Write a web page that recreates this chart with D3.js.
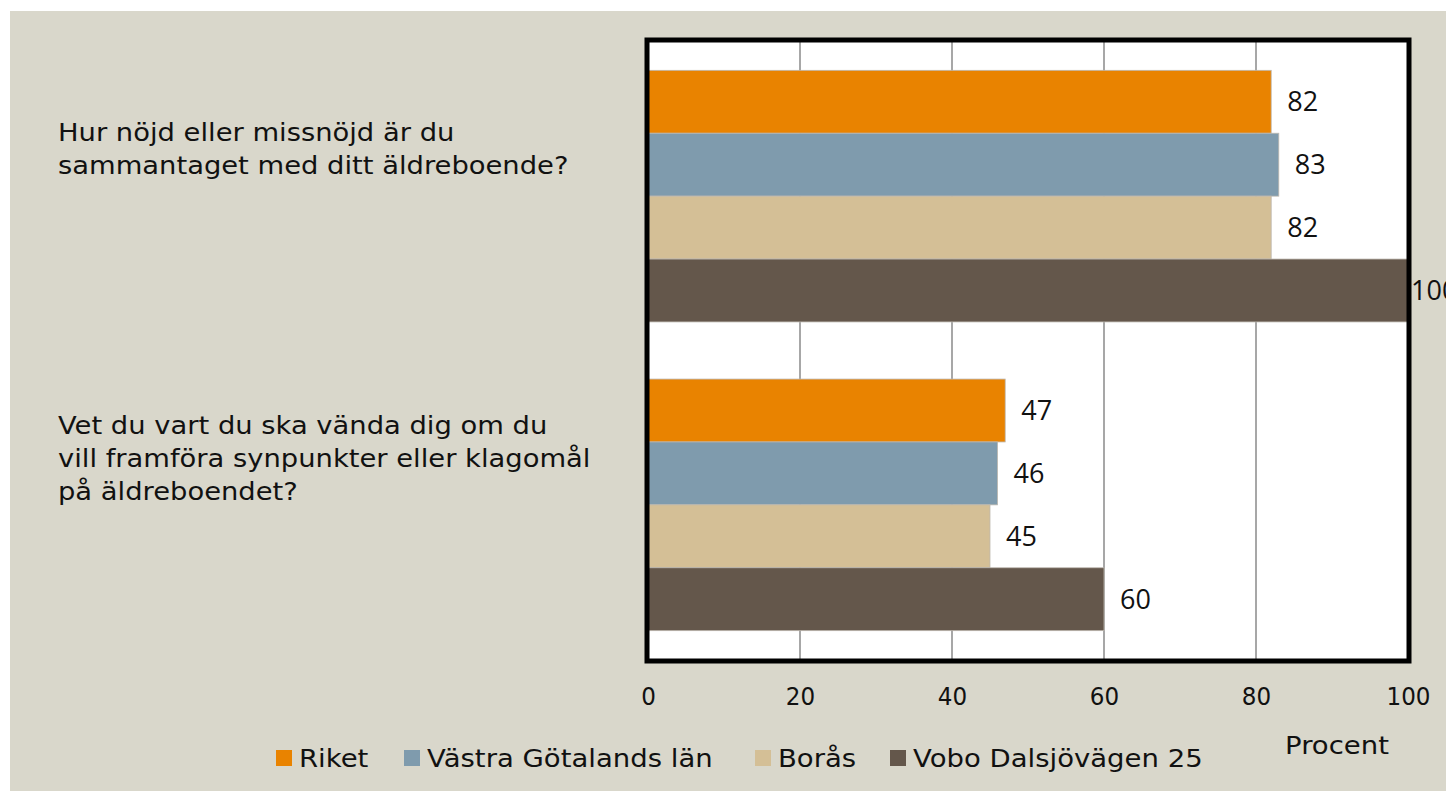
<!DOCTYPE html>
<html>
<head>
<meta charset="utf-8">
<script src="https://cdn.jsdelivr.net/npm/d3@7"></script>
<style>
  body { margin: 0; background: #fff; }
  text { font-family: "DejaVu Sans", sans-serif; fill: #111; }
</style>
</head>
<body>
<div id="chart"></div>
<script>
const questions = [
  ["Hur nöjd eller missnöjd är du", "sammantaget med ditt äldreboende?"],
  ["Vet du vart du ska vända dig om du", "vill framföra synpunkter eller klagomål", "på äldreboendet?"]
];
const seriesNames = ["Riket", "Västra Götalands län", "Borås", "Vobo Dalsjövägen 25"];
const seriesColors = ["#E98300", "#7F9BAD", "#D4BF96", "#64574B"];
const values = [
  [82, 83, 82, 100],
  [47, 46, 45, 60]
];
const xTicks = [0, 20, 40, 60, 80, 100];

const width = 1446, height = 791;
const plot = {left: 648, right: 1408, top: 41, bottom: 660};

// widen glyphs a bit to get closer to the wide geometric face of the original
function stretch(sel, k) {
  sel.each(function() {
    const w = this.getComputedTextLength();
    d3.select(this).attr("textLength", w * k).attr("lengthAdjust", "spacingAndGlyphs");
  });
}

const svg = d3.select("#chart").append("svg")
  .attr("width", width).attr("height", height);

svg.append("rect")
  .attr("x", 10).attr("y", 11)
  .attr("width", width - 10).attr("height", height - 11)
  .attr("fill", "#D9D7CB");

svg.append("rect")
  .attr("x", plot.left).attr("y", plot.top)
  .attr("width", plot.right - plot.left).attr("height", plot.bottom - plot.top)
  .attr("fill", "#fff");

const x = d3.scaleLinear().domain([0, 100]).range([plot.left, plot.right]);
const y = d3.scaleBand().domain(d3.range(questions.length))
  .range([plot.top, plot.bottom]).paddingInner(0.185).paddingOuter(0.095);
const ySub = d3.scaleBand().domain(d3.range(seriesNames.length)).range([0, y.bandwidth()]);

// grid
svg.append("g").selectAll("line")
  .data(xTicks.slice(1, -1))
  .join("line")
  .attr("x1", d => x(d)).attr("x2", d => x(d))
  .attr("y1", plot.top).attr("y2", plot.bottom)
  .attr("stroke", "#8a8a8a").attr("stroke-width", 1.5);

// bars
const groups = svg.append("g").selectAll("g")
  .data(values)
  .join("g")
  .attr("transform", (d, i) => `translate(0,${y(i)})`);

groups.selectAll("rect")
  .data(d => d)
  .join("rect")
  .attr("x", x(0))
  .attr("y", (d, i) => ySub(i))
  .attr("width", d => x(d) - x(0))
  .attr("height", ySub.bandwidth())
  .attr("fill", (d, i) => seriesColors[i])
  .attr("stroke", "#bdb8b0").attr("stroke-width", 0.8);

groups.selectAll("text")
  .data(d => d)
  .join("text")
  .attr("x", d => Math.min(x(d) + 16, plot.right + 3))
  .attr("y", (d, i) => ySub(i) + ySub.bandwidth() / 2)
  .attr("dy", "0.36em")
  .style("font-family", "'Open Sans', sans-serif")
  .style("font-size", "27px")
  .text(d => d);

// frame
svg.append("rect")
  .attr("x", plot.left - 1).attr("y", plot.top - 1)
  .attr("width", plot.right - plot.left + 2).attr("height", plot.bottom - plot.top + 2)
  .attr("fill", "none").attr("stroke", "#000").attr("stroke-width", 5);

// x axis labels
const xAxis = svg.append("g")
  .attr("transform", `translate(0,${plot.bottom})`)
  .call(d3.axisBottom(x).tickValues(xTicks).tickSize(0).tickPadding(28));
xAxis.select(".domain").remove();
xAxis.selectAll("text")
  .style("font-family", "'DejaVu Sans', sans-serif")
  .style("font-size", "24px")
  .attr("fill", "#111")
  .call(stretch, 0.96);

svg.append("text")
  .attr("x", 1337).attr("y", 754)
  .attr("text-anchor", "middle")
  .style("font-size", "25px")
  .text("Procent")
  .call(stretch, 1.1);

// category labels
questions.forEach((lines, i) => {
  const cy = y(i) + y.bandwidth() / 2 - 47;
  lines.forEach((line, j) => {
    svg.append("text")
      .attr("x", 58)
      .attr("y", cy + (j - (lines.length - 1) / 2) * 33)
      .attr("dy", "0.36em")
      .style("font-size", "24px")
      .text(line)
      .call(stretch, 1.14);
  });
});

// legend
const legendX = [276, 404, 755, 890];
const legend = svg.append("g").selectAll("g")
  .data(seriesNames)
  .join("g")
  .attr("transform", (d, i) => `translate(${legendX[i]},750)`);
legend.append("rect")
  .attr("width", 16).attr("height", 16)
  .attr("fill", (d, i) => seriesColors[i]);
legend.append("text")
  .attr("x", 23).attr("y", 8).attr("dy", "0.36em")
  .style("font-size", "25px")
  .text(d => d)
  .call(stretch, 1.1);
</script>
</body>
</html>
